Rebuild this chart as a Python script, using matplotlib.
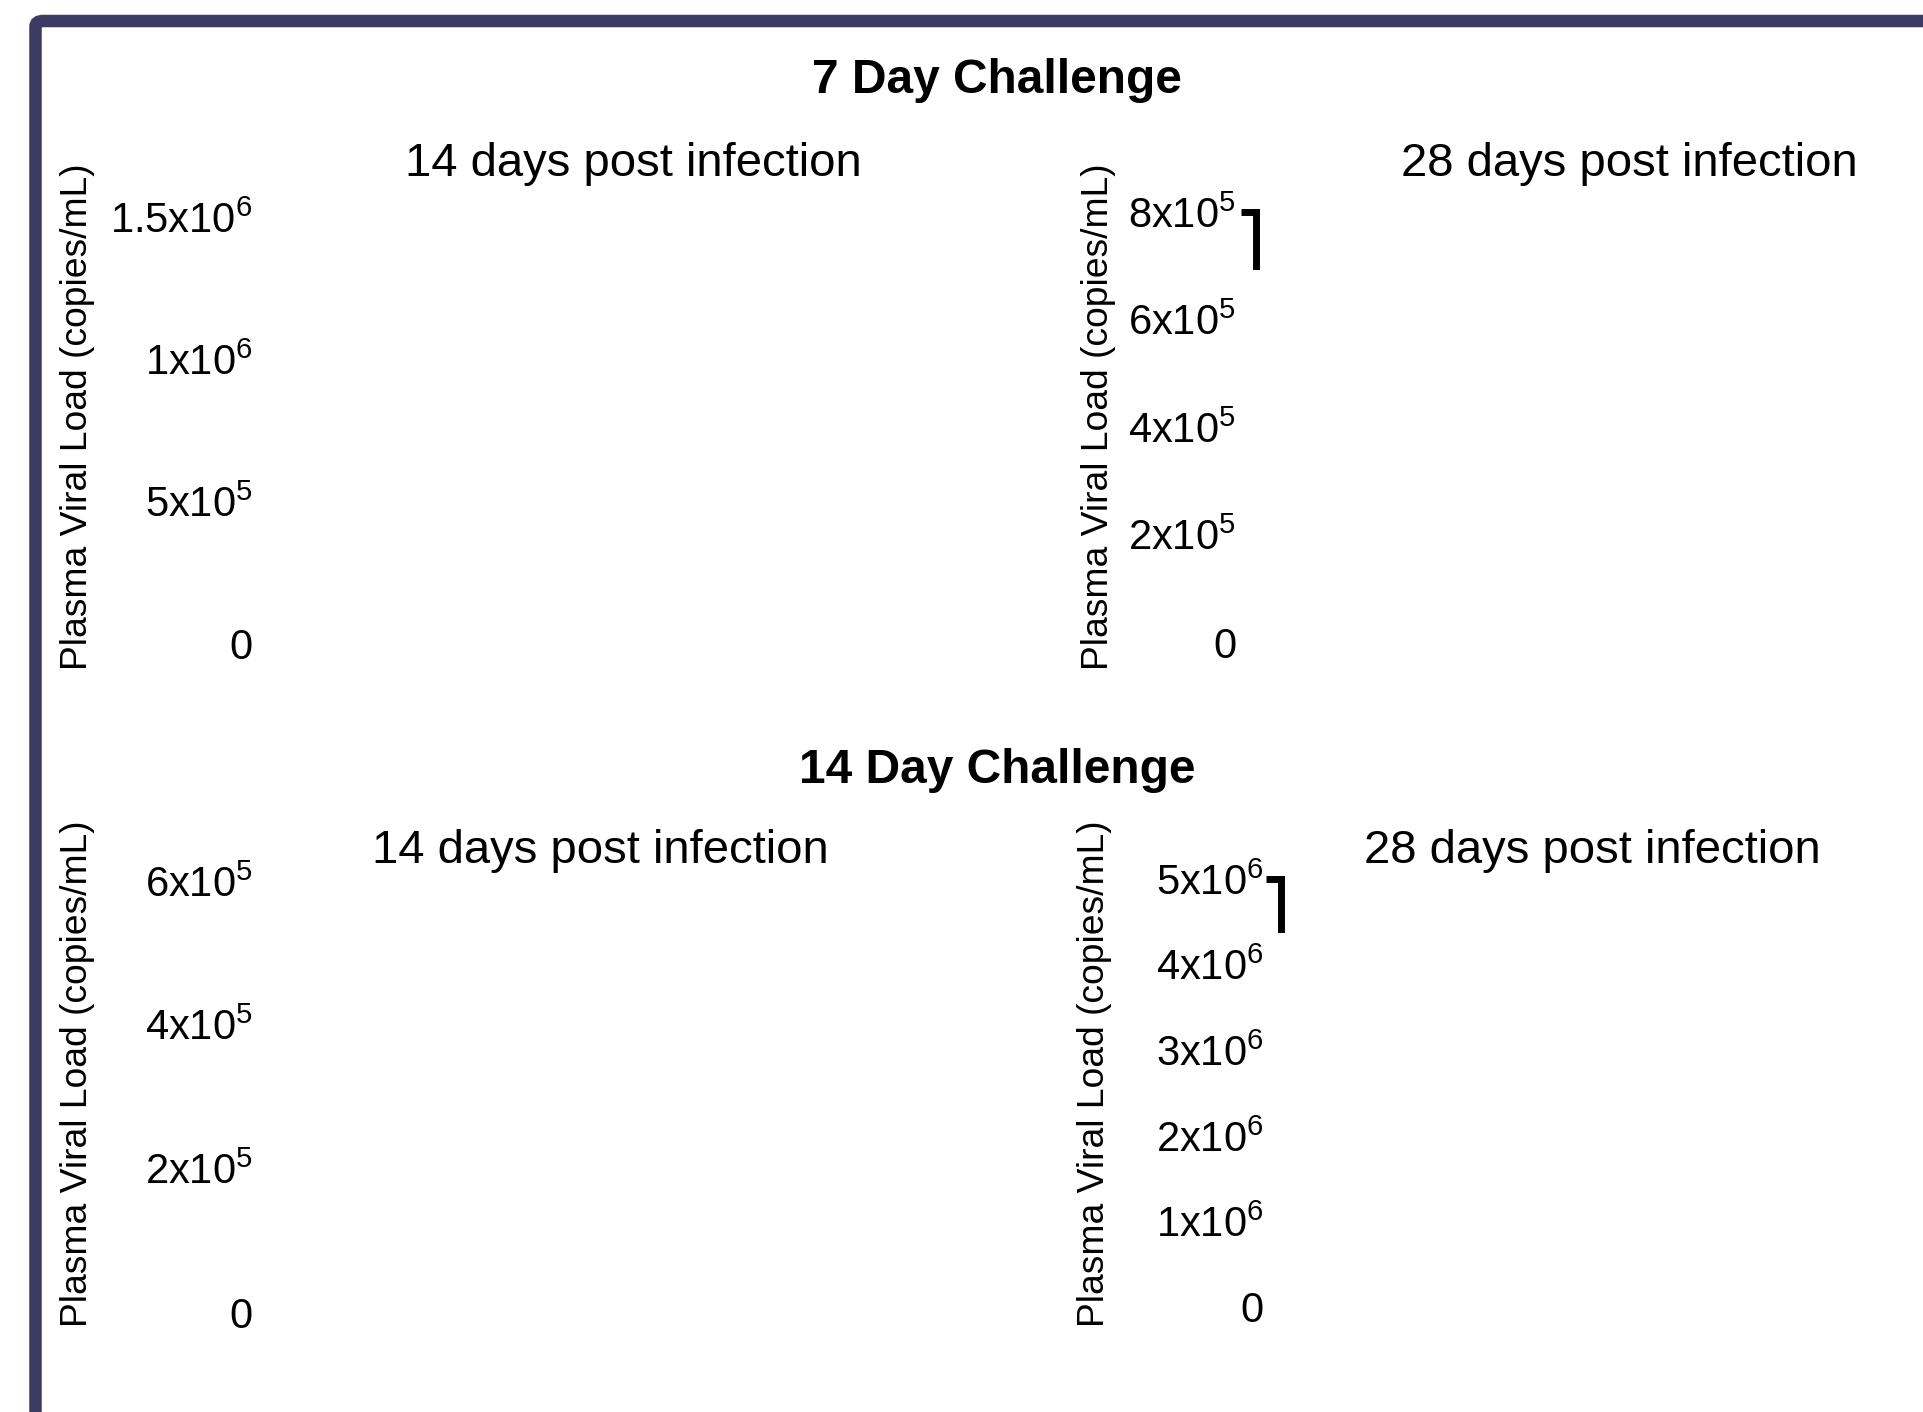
import matplotlib
matplotlib.use("Agg")
import matplotlib.pyplot as plt
from matplotlib.patches import FancyBboxPatch

plt.rcParams['font.family'] = ['Liberation Sans', 'DejaVu Sans']
plt.rcParams['mathtext.fontset'] = 'custom'
plt.rcParams['mathtext.rm'] = 'Liberation Sans'
plt.rcParams['mathtext.it'] = 'Liberation Sans:italic'
plt.rcParams['mathtext.bf'] = 'Liberation Sans:bold'

# chart content
challenges = ['7 Day Challenge', '14 Day Challenge']
panel_titles = ['14 days post infection', '28 days post infection',
                '14 days post infection', '28 days post infection']
ylabel = 'Plasma Viral Load (copies/mL)'

tl_ticks = [0, 5e5, 1e6, 1.5e6]
tl_labels = ['0', '5x10$\\mathregular{^5}$', '1x10$\\mathregular{^6}$', '1.5x10$\\mathregular{^6}$']
tr_ticks = [0, 2e5, 4e5, 6e5, 8e5]
tr_labels = ['0', '2x10$\\mathregular{^5}$', '4x10$\\mathregular{^5}$', '6x10$\\mathregular{^5}$', '8x10$\\mathregular{^5}$']
bl_ticks = [0, 2e5, 4e5, 6e5]
bl_labels = ['0', '2x10$\\mathregular{^5}$', '4x10$\\mathregular{^5}$', '6x10$\\mathregular{^5}$']
br_ticks = [0, 1e6, 2e6, 3e6, 4e6, 5e6]
br_labels = ['0', '1x10$\\mathregular{^6}$', '2x10$\\mathregular{^6}$', '3x10$\\mathregular{^6}$',
             '4x10$\\mathregular{^6}$', '5x10$\\mathregular{^6}$']
# visible piece of the error bar / axis on the right panels (bottom, top)
tr_stub = (7.0e5, 8e5)
br_stub = (4.42e6, 5e6)

W, H = 1924, 1412
fig = plt.figure(figsize=(W / 100, H / 100), dpi=100)


def add_ax(left, top, right, bottom):
    return fig.add_axes([left / W, 1 - bottom / H, (right - left) / W, (bottom - top) / H])


def setup(ax, ticks, labels, title, title_y, stub=None, pad=6):
    ax.set_ylim(ticks[0], ticks[-1])
    ax.set_yticks(ticks, labels)
    ax.set_xticks([])
    ax.patch.set_alpha(0)
    for s in ['top', 'right', 'bottom', 'left']:
        ax.spines[s].set_visible(False)
    ax.tick_params(axis='y', labelsize=30, length=10.8, width=5, pad=pad)
    for t in ax.yaxis.get_major_ticks():
        t.tick1line.set_visible(False)
    if stub is not None:
        ax.spines['left'].set_visible(True)
        ax.spines['left'].set_linewidth(5)
        ax.spines['left'].set_bounds(*stub)
        ax.yaxis.get_major_ticks()[-1].tick1line.set_visible(True)
    ax.set_title(title, fontsize=34, y=title_y, va='baseline')


ax1 = add_ax(276, 217, 990, 644)
ax2 = add_ax(1256, 212, 2003, 642)
ax3 = add_ax(276, 881, 924, 1312)
ax4 = add_ax(1281, 879, 1903, 1307)

setup(ax1, tl_ticks, tl_labels, panel_titles[0], (644 - 184) / (644 - 217))
setup(ax2, tr_ticks, tr_labels, panel_titles[1], (642 - 184) / (642 - 212), tr_stub, pad=3.5)
setup(ax3, bl_ticks, bl_labels, panel_titles[2], (1312 - 871) / (1312 - 881))
setup(ax4, br_ticks, br_labels, panel_titles[3], (1307 - 871) / (1307 - 879), br_stub, pad=1.5)

# y labels
for x, y in [(78, 417), (1099, 417), (78, 1074), (1095, 1074)]:
    fig.text(x / W, 1 - y / H, ylabel, rotation=90, fontsize=26.8, ha='center', va='center')

# challenge headers
fig.text(997 / W, 1 - 93 / H, challenges[0], fontsize=34.5, fontweight='bold', ha='center', va='baseline')
fig.text(997 / W, 1 - 783 / H, challenges[1], fontsize=34.5, fontweight='bold', ha='center', va='baseline')

# dark frame
frame = FancyBboxPatch((35.5 / W, -0.3), 1.5, 1.3 - 21 / H,
                       boxstyle='round,pad=0,rounding_size=0.004',
                       transform=fig.transFigure, fill=False,
                       edgecolor='#3d3b63', linewidth=9, clip_on=False)
fig.patches.append(frame)

fig.savefig('out.png', dpi=100)
